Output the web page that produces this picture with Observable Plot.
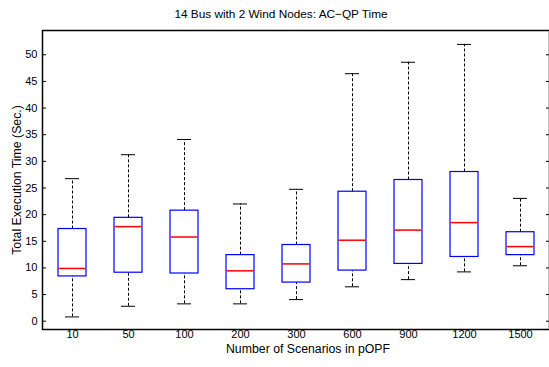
<!DOCTYPE html>
<html>
<head>
<meta charset="utf-8">
<script src="https://cdn.jsdelivr.net/npm/d3@7"></script>
<script src="https://cdn.jsdelivr.net/npm/@observablehq/plot@0.6"></script>
<style>
  html, body { margin: 0; padding: 0; background: #fff; }
  svg { font-family: "Liberation Sans", Arial, Helvetica, sans-serif; }
</style>
</head>
<body>
<div id="chart"></div>
<script>
const categories = ["10", "50", "100", "200", "300", "600", "900", "1200", "1500"];
const lowerWhisker = [0.8, 2.8, 3.25, 3.25, 4.05, 6.45, 7.8, 9.25, 10.4];
const q1 = [8.4, 9.1, 8.95, 6.0, 7.25, 9.5, 10.75, 12.05, 12.4];
const median = [9.9, 17.75, 15.8, 9.45, 10.75, 15.2, 17.1, 18.5, 14.0];
const q3 = [17.3, 19.4, 20.75, 12.4, 14.3, 24.3, 26.5, 28.0, 16.7];
const upperWhisker = [26.75, 31.25, 34.1, 22.0, 24.75, 46.45, 48.6, 51.95, 23.05];
const yTicks = [0, 5, 10, 15, 20, 25, 30, 35, 40, 45, 50];
const titleText = "14 Bus with 2 Wind Nodes: AC\u2212QP Time";
const xLabel = "Number of Scenarios in pOPF";
const yLabel = "Total Execution Time (Sec.)";

const rows = categories.map((c, i) => ({
  cat: c, lo: lowerWhisker[i], q1: q1[i], med: median[i], q3: q3[i], hi: upperWhisker[i]
}));

const chart = Plot.plot({
  width: 549,
  height: 367,
  marginLeft: 42,
  marginRight: 0,
  marginTop: 30,
  marginBottom: 38,
  style: { fontSize: "11px", fontFamily: "'Liberation Sans', Arial, sans-serif", background: "white", overflow: "visible" },
  x: { domain: categories, paddingInner: 0.5, paddingOuter: 0.25, label: null },
  y: { domain: [-1.56, 54.56], label: null },
  marks: [
    Plot.ruleX(rows, { x: "cat", y1: "q3", y2: "hi", stroke: "black", strokeWidth: 1, strokeDasharray: "3,2" }),
    Plot.ruleX(rows, { x: "cat", y1: "lo", y2: "q1", stroke: "black", strokeWidth: 1, strokeDasharray: "3,2" }),
    Plot.tickY(rows, { x: "cat", y: "hi", stroke: "black", strokeWidth: 1, insetLeft: 7, insetRight: 7 }),
    Plot.tickY(rows, { x: "cat", y: "lo", stroke: "black", strokeWidth: 1, insetLeft: 7, insetRight: 7 }),
    Plot.barY(rows, { x: "cat", y1: "q1", y2: "q3", fill: "none", stroke: "#0000ff", strokeWidth: 1.2 }),
    Plot.tickY(rows, { x: "cat", y: "med", stroke: "#ff0000", strokeWidth: 1.5, insetLeft: 0.6, insetRight: 0.6 }),
    Plot.frame({ stroke: "black", strokeWidth: 1.5 }),
    Plot.axisY({ ticks: yTicks, tickSize: -4, tickPadding: 9, label: null, fontSize: 11 }),
    Plot.axisY({ anchor: "right", ticks: yTicks, tickSize: -4, tickFormat: () => "", label: null }),
    Plot.axisX({ tickSize: 0, tickPadding: 1, label: null, fontSize: 11 }),
    Plot.text([yLabel], { frameAnchor: "left", rotate: -90, dx: -25, textAnchor: "middle", lineAnchor: "middle", fontSize: 12.3, fill: "black" }),
    Plot.text([xLabel], { frameAnchor: "bottom", dy: 20, dx: 12, textAnchor: "middle", lineAnchor: "middle", fontSize: 12.3, fill: "black" }),
    Plot.text([titleText], { frameAnchor: "top", dy: -16, dx: -15, textAnchor: "middle", lineAnchor: "middle", fontSize: 11.8, fill: "black" })
  ]
});
document.getElementById("chart").appendChild(chart);
</script>
</body>
</html>
